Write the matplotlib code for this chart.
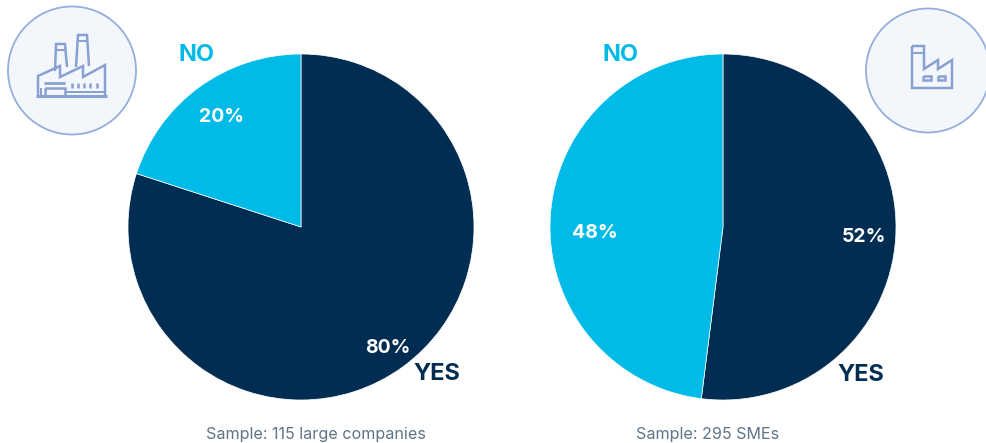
import matplotlib
matplotlib.use('Agg')
import matplotlib.pyplot as plt
from matplotlib.patches import Circle

plt.rcParams['font.family'] = ['Inter', 'DejaVu Sans']

W, H = 986, 443
NAVY = '#012d53'
CYAN = '#00bbe7'
ICON = '#88a0d2'
RING = '#94aede'
DISC = '#f3f7fb'
GREY = '#5f7488'

pie_labels = ['YES', 'NO']
large_values = [80, 20]
sme_values = [52, 48]
large_sample = 'Sample: 115 large companies'
sme_sample = 'Sample: 295 SMEs'


def Y(y):
    # positions below are measured from the top of the figure
    return H - y


def line(ax, pts, lw=1.8):
    ax.plot([p[0] for p in pts], [Y(p[1]) for p in pts], color=ICON, lw=lw,
            solid_capstyle='butt', solid_joinstyle='miter', zorder=5)


def box(ax, x0, y0, x1, y1, lw=1.8):
    line(ax, [(x0, y0), (x1, y0), (x1, y1), (x0, y1), (x0, y0)], lw)


def draw_pie(ax, values, cx):
    ax.pie(values, colors=[NAVY, CYAN], startangle=90, counterclock=False,
           center=(cx, Y(227)), radius=173, frame=True,
           wedgeprops={'edgecolor': 'white', 'linewidth': 0.5})


def big_factory(ax):
    ax.add_patch(Circle((72, Y(70.5)), 64, fc=DISC, ec=RING, lw=1.3, zorder=4))
    # chimneys
    line(ax, [(55, 71), (56, 44), (65, 44), (67, 67)])
    line(ax, [(55, 50), (66, 50)], 1.4)
    line(ax, [(76, 67), (78, 35), (87, 35), (89, 66)])
    line(ax, [(77, 41), (88, 41)], 1.4)
    # saw-tooth roof and walls
    line(ax, [(38, 96), (38, 76), (60, 66), (60, 77), (83, 66), (83, 77),
              (105, 65), (105, 96)])
    line(ax, [(36, 96), (107, 96)], 2.2)
    line(ax, [(66, 92), (105, 92)], 1.4)
    line(ax, [(44, 83), (65, 83)], 2)
    box(ax, 45, 88, 65, 96)
    line(ax, [(41, 88), (41, 96)], 1.4)
    for x in [72, 78, 84, 90, 97]:
        line(ax, [(x, 83), (x, 88)], 1.8)


def small_factory(ax):
    ax.add_patch(Circle((928, Y(70.5)), 62, fc=DISC, ec=RING, lw=1.3, zorder=4))
    line(ax, [(912, 46), (924, 46), (924, 69), (938, 60), (938, 69), (952, 60),
              (952, 88), (912, 88), (912, 46)])
    line(ax, [(912, 53), (924, 53)], 1.4)
    box(ax, 923, 76, 931, 80)
    box(ax, 938, 76, 945, 80)


fig = plt.figure(figsize=(W / 100, H / 100), dpi=100)
ax = fig.add_axes([0, 0, 1, 1])

draw_pie(ax, large_values, 301)
draw_pie(ax, sme_values, 723)
big_factory(ax)
small_factory(ax)

ax.set_xlim(0, W)
ax.set_ylim(0, H)
ax.set_aspect('equal')
ax.axis('off')

big = dict(fontsize=17, fontweight='bold', ha='center', va='center')
pct = dict(fontsize=14, fontweight='bold', ha='center', va='center', color='white')
note = dict(fontsize=11.6, ha='center', va='center', color=GREY)

ax.text(197, Y(55), pie_labels[1], color=CYAN, **big)
ax.text(621, Y(55), pie_labels[1], color=CYAN, **big)
ax.text(437, Y(374), pie_labels[0], color=NAVY, **big)
ax.text(861, Y(375), pie_labels[0], color=NAVY, **big)

ax.text(222, Y(117), f'{large_values[1]}%', **pct)
ax.text(388, Y(348), f'{large_values[0]}%', **pct)
ax.text(595, Y(233), f'{sme_values[1]}%', **pct)
ax.text(864, Y(237), f'{sme_values[0]}%', **pct)

ax.text(316, Y(434), large_sample, **note)
ax.text(708, Y(434), sme_sample, **note)

plt.savefig('out.png', dpi=100)
